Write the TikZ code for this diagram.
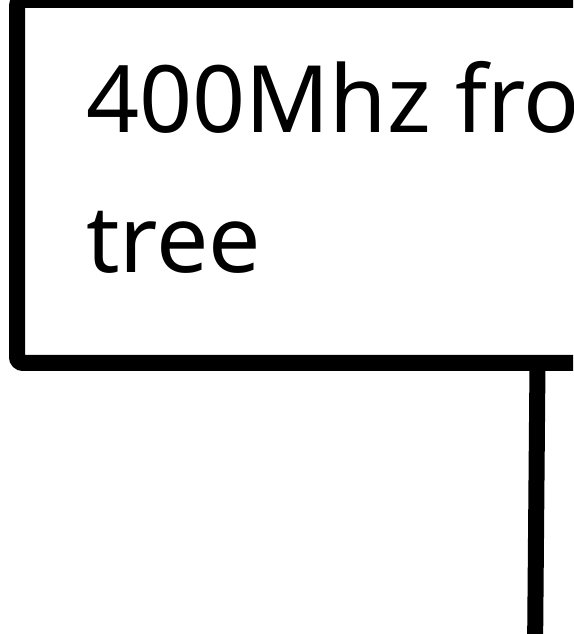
\documentclass[tikz,border=0pt]{standalone}
\usepackage{fontspec}
\setmainfont{Noto Sans}
\begin{document}
\begin{tikzpicture}[x=1pt,y=1pt,
  boxstyle/.style={draw=black, line width=16pt, rounded corners=6pt, inner sep=0pt, outer sep=0pt},
  wire/.style={draw=black, line width=16pt},
  label/.style={inner sep=0pt, outer sep=0pt, anchor=base west, font=\fontsize{93}{140}\selectfont}]
\useasboundingbox (0,0) rectangle (573,634);
\begin{scope}
\clip (0,0) rectangle (573,634);
\node[boxstyle, minimum width=700pt, minimum height=363pt, anchor=north west] (box) at (17,634) {};
\node[label] (line1) at (86,501) {400Mhz from};
\node[label] (line2) at (86,361) {tree};
\coordinate (wiretop) at ([xshift=520.5pt]box.south west);
\coordinate (wireend) at (535,-20);
\draw[wire] (wiretop) -- (wireend);
\end{scope}
\end{tikzpicture}
\end{document}
